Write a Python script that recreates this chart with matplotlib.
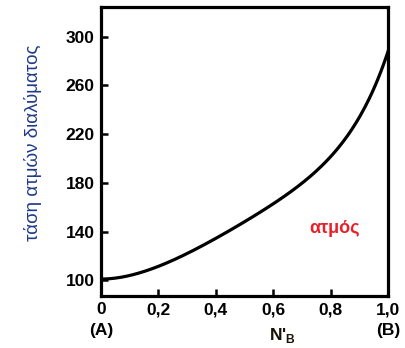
import numpy as np
import matplotlib
matplotlib.use("Agg")
import matplotlib.pyplot as plt

# mole fraction of B in the vapour and the vapour pressure
x_frac = [0.0, 0.05, 0.1, 0.2, 0.3, 0.4, 0.5, 0.6, 0.7, 0.8, 0.9, 0.95, 1.0]
pressure = [101, 101.5, 104, 111.5, 122, 134, 148, 163, 180, 201, 234, 257, 288]

x_ticks = [0, 0.2, 0.4, 0.6, 0.8, 1.0]
x_labels = ["0", "0,2", "0,4", "0,6", "0,8", "1,0"]
y_ticks = [100, 140, 180, 220, 260, 300]

plt.rcParams["font.family"] = ["Liberation Sans", "DejaVu Sans"]

fig = plt.figure(figsize=(4.06, 3.48), dpi=100)
ax = fig.add_axes([0.2488, 0.1494, 0.7069, 0.8305])

# smooth the hand-read points (fit in log space so it stays monotone)
xs = np.linspace(0, 1, 200)
coef = np.polyfit(x_frac, np.log(pressure), 4)
ys = np.exp(np.polyval(coef, xs))
ax.plot(xs, ys, color="black", lw=2.3)

ax.set_xlim(0, 1.0)
ax.set_ylim(87, 324.5)
ax.set_xticks(x_ticks)
ax.set_xticklabels(x_labels)
ax.set_yticks(y_ticks)
ax.tick_params(direction="in", length=5, width=1.8, labelsize=12.5, pad=4.5)
for lab in ax.get_xticklabels() + ax.get_yticklabels():
    lab.set_fontweight("bold")
for s in ax.spines.values():
    s.set_linewidth(2.3)

ax.text(0, -0.118, "(A)", transform=ax.transAxes, ha="center", va="center",
        fontsize=12.5, fontweight="bold")
ax.text(1.0, -0.118, "(B)", transform=ax.transAxes, ha="center", va="center",
        fontsize=12.5, fontweight="bold")
ax.text(0.634, -0.135, "N'$_{\\mathregular{B}}$", transform=ax.transAxes,
        ha="center", va="center", fontsize=12.5, fontweight="bold",
        color="#1a1208")
ax.text(0.815, 0.232, "ατμός", transform=ax.transAxes, ha="center",
        va="center", fontsize=13, fontweight="bold", color="#e8202a")

fig.text(0.081, 0.589, "τάση ατμών διαλύματος", rotation=90, ha="center",
         va="center", fontsize=13.5, color="#1f3a8a")

fig.savefig("out.png", dpi=100)
